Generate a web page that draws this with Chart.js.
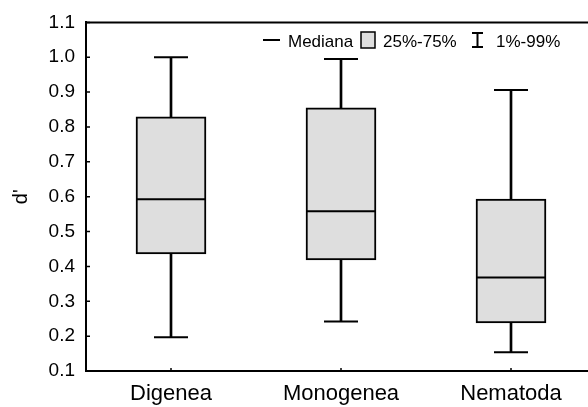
<!DOCTYPE html>
<html lang="it">
<head>
  <meta charset="UTF-8" />
  <title>d' per gruppo</title>
  <script src="https://cdn.jsdelivr.net/npm/chart.js"></script>
  <style>
    body {
      margin: 0;
      background: #fff;
      overflow: hidden;
    }
    #wrap {
      width: 600px;
      height: 407px;
    }
  </style>
</head>
<body>
  <div id="wrap"><canvas id="boxChart" width="600" height="407"></canvas></div>

  <script>
    // dati
    const categories = ['Digenea', 'Monogenea', 'Nematoda'];
    const p1     = [0.197, 0.242, 0.154];  // 1%
    const q25    = [0.436, 0.419, 0.238];  // 25%
    const median = [0.593, 0.558, 0.368];
    const q75    = [0.829, 0.855, 0.593];  // 75%
    const p99    = [1.000, 0.995, 0.906];  // 99%

    const FONT = "'Liberation Sans', Arial, sans-serif";
    const BOX_FILL = '#dedede';

    // bordo superiore, tacche interne e legenda
    const extras = {
      id: 'extras',
      afterDraw(chart) {
        const { ctx, chartArea: a, scales: { x, y } } = chart;
        ctx.save();
        ctx.strokeStyle = '#000';
        ctx.lineWidth = 2;
        ctx.beginPath();
        ctx.moveTo(a.left - 1, a.top);
        ctx.lineTo(a.right, a.top);
        ctx.stroke();

        ctx.lineWidth = 1.5;
        ctx.beginPath();
        y.ticks.forEach((t, i) => {
          const py = y.getPixelForTick(i);
          ctx.moveTo(a.left, py);
          ctx.lineTo(a.left + 4, py);
        });
        x.ticks.forEach((t, i) => {
          const px = x.getPixelForTick(i);
          ctx.moveTo(px, a.bottom);
          ctx.lineTo(px, a.bottom - 3);
        });
        ctx.stroke();

        // legenda
        ctx.font = '17px ' + FONT;
        ctx.fillStyle = '#000';
        ctx.textBaseline = 'alphabetic';
        const ly = 40, base = 47;
        ctx.lineWidth = 2;
        ctx.beginPath();
        ctx.moveTo(263, ly); ctx.lineTo(280, ly);
        ctx.stroke();
        ctx.fillText('Mediana', 288, base);

        ctx.fillStyle = BOX_FILL;
        ctx.fillRect(361, 32, 14, 16);
        ctx.lineWidth = 1.5;
        ctx.strokeRect(361, 32, 14, 16);
        ctx.fillStyle = '#000';
        ctx.fillText('25%-75%', 383, base);

        ctx.lineWidth = 2;
        ctx.beginPath();
        ctx.moveTo(477.5, 33); ctx.lineTo(477.5, 47);
        ctx.moveTo(472, 33); ctx.lineTo(483, 33);
        ctx.moveTo(472, 47); ctx.lineTo(483, 47);
        ctx.stroke();
        ctx.fillText('1%-99%', 496, base);
        ctx.restore();
      }
    };

    const ctx = document.getElementById('boxChart').getContext('2d');
    new Chart(ctx, {
      data: {
        labels: categories,
        datasets: [
          {
            type: 'bar',
            label: 'baffi',
            data: categories.map((c, i) => [p1[i], p99[i]]),
            backgroundColor: '#000',
            barThickness: 2,
            grouped: false,
            order: 3
          },
          {
            type: 'bar',
            label: '25%-75%',
            data: categories.map((c, i) => [q25[i], q75[i]]),
            backgroundColor: BOX_FILL,
            borderColor: '#000',
            borderWidth: 2,
            borderSkipped: false,
            barThickness: 70,
            grouped: false,
            order: 2
          },
          {
            type: 'line',
            label: 'Mediana',
            data: median,
            showLine: false,
            pointStyle: 'line',
            pointRadius: 35,
            pointHoverRadius: 35,
            pointBorderColor: '#000',
            pointBorderWidth: 2,
            order: 1
          },
          {
            type: 'line',
            label: '99%',
            data: p99,
            showLine: false,
            pointStyle: 'line',
            pointRadius: 17,
            pointHoverRadius: 17,
            pointBorderColor: '#000',
            pointBorderWidth: 2,
            order: 1
          },
          {
            type: 'line',
            label: '1%',
            data: p1,
            showLine: false,
            pointStyle: 'line',
            pointRadius: 17,
            pointHoverRadius: 17,
            pointBorderColor: '#000',
            pointBorderWidth: 2,
            order: 1
          }
        ]
      },
      options: {
        responsive: false,
        animation: false,
        events: [],
        layout: { autoPadding: false, padding: { top: 20, right: 4, left: 0, bottom: 0 } },
        plugins: {
          legend: { display: false },
          tooltip: { enabled: false }
        },
        scales: {
          x: {
            offset: true,
            grid: { display: false, drawTicks: false },
            border: { display: true, color: '#000', width: 2 },
            ticks: { color: '#000', padding: 10, font: { family: FONT, size: 22 } },
            afterFit: s => { s.height = 36; }
          },
          y: {
            min: 0.1, max: 1.1,
            grid: { display: false, drawTicks: false },
            border: { display: true, color: '#000', width: 2 },
            ticks: {
              stepSize: 0.1,
              color: '#000',
              padding: 11,
              font: { family: FONT, size: 19 },
              callback: v => v.toFixed(1)
            },
            title: {
              display: true,
              text: "d'",
              color: '#000',
              padding: { top: 9, bottom: 0 },
              font: { family: FONT, size: 20 }
            },
            afterFit: s => { s.width = 86; }
          }
        }
      },
      plugins: [extras]
    });
  </script>
</body>
</html>
